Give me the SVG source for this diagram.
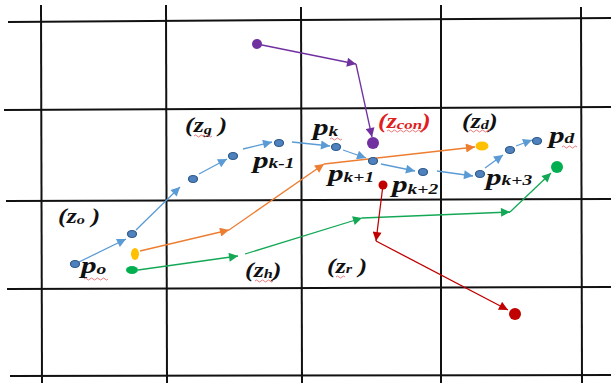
<svg xmlns="http://www.w3.org/2000/svg" width="611" height="383" viewBox="0 0 611 383">
<style>
.grid line{stroke:#111;stroke-width:2}
.bl{stroke:#5b9bd5;stroke-width:1.3;fill:none}
.or{stroke:#ed7d31;stroke-width:1.3;fill:none}
.gr{stroke:#13a856;stroke-width:1.3;fill:none}
.pu{stroke:#7030a0;stroke-width:1.3;fill:none}
.rd{stroke:#c00000;stroke-width:1.3;fill:none}
.bn{fill:#4f81bd;stroke:#2e5a8c;stroke-width:1.2}
.sq{stroke:#e04040;stroke-width:0.7;fill:none}
</style>
<defs>
<marker id="ab" viewBox="0 0 10 10" refX="10" refY="5" markerWidth="12" markerHeight="9" markerUnits="userSpaceOnUse" orient="auto"><path d="M0,0L10,5L0,10z" fill="#5b9bd5"/></marker>
<marker id="ao" viewBox="0 0 10 10" refX="10" refY="5" markerWidth="12" markerHeight="9" markerUnits="userSpaceOnUse" orient="auto"><path d="M0,0L10,5L0,10z" fill="#ed7d31"/></marker>
<marker id="ag" viewBox="0 0 10 10" refX="10" refY="5" markerWidth="12" markerHeight="9" markerUnits="userSpaceOnUse" orient="auto"><path d="M0,0L10,5L0,10z" fill="#13a856"/></marker>
<marker id="ap" viewBox="0 0 10 10" refX="10" refY="5" markerWidth="12" markerHeight="9" markerUnits="userSpaceOnUse" orient="auto"><path d="M0,0L10,5L0,10z" fill="#7030a0"/></marker>
<marker id="ar" viewBox="0 0 10 10" refX="10" refY="5" markerWidth="12" markerHeight="9" markerUnits="userSpaceOnUse" orient="auto"><path d="M0,0L10,5L0,10z" fill="#c00000"/></marker>
</defs>
<rect width="611" height="383" fill="#fff"/>
<g class="grid" id="grid">
<line x1="8" y1="22" x2="611" y2="18"/>
<line x1="4" y1="110" x2="611" y2="107"/>
<line x1="6" y1="201" x2="611" y2="199"/>
<line x1="7" y1="289" x2="611" y2="287"/>
<line x1="10" y1="376" x2="611" y2="375"/>
<line x1="41" y1="5" x2="42" y2="383"/>
<line x1="166" y1="5" x2="167" y2="383"/>
<line x1="301" y1="7" x2="302" y2="383"/>
<line x1="441" y1="5" x2="441" y2="383"/>
<line x1="581" y1="7" x2="582" y2="383"/>
</g>
<g id="connectors">
<line class="bl" x1="79" y1="262" x2="126" y2="239" marker-end="url(#ab)"/>
<line class="bl" x1="136" y1="230" x2="180" y2="187" marker-end="url(#ab)"/>
<line class="bl" x1="199" y1="174" x2="227" y2="159" marker-end="url(#ab)"/>
<line class="bl" x1="243" y1="149" x2="272" y2="142" marker-end="url(#ab)"/>
<line class="bl" x1="292" y1="142" x2="330" y2="146" marker-end="url(#ab)"/>
<line class="bl" x1="343" y1="150" x2="366" y2="158" marker-end="url(#ab)"/>
<line class="bl" x1="381" y1="164" x2="415" y2="171" marker-end="url(#ab)"/>
<line class="bl" x1="437" y1="171" x2="473" y2="176" marker-end="url(#ab)"/>
<line class="bl" x1="485" y1="168" x2="503" y2="155" marker-end="url(#ab)"/>
<line class="bl" x1="516" y1="146" x2="532" y2="140" marker-end="url(#ab)"/>
<line class="or" x1="140" y1="251" x2="229" y2="230" marker-end="url(#ao)"/>
<line class="or" x1="229" y1="230" x2="324" y2="164" marker-end="url(#ao)"/>
<line class="or" x1="324" y1="164" x2="475" y2="147" marker-end="url(#ao)"/>
<line class="gr" x1="138" y1="270" x2="238" y2="256" marker-end="url(#ag)"/>
<line class="gr" x1="245" y1="254" x2="362" y2="218" marker-end="url(#ag)"/>
<line class="gr" x1="362" y1="218" x2="510" y2="212" marker-end="url(#ag)"/>
<line class="gr" x1="510" y1="212" x2="551" y2="173" marker-end="url(#ag)"/>
<line class="pu" x1="257" y1="44" x2="356" y2="64" marker-end="url(#ap)"/>
<line class="pu" x1="356" y1="64" x2="372" y2="137" marker-end="url(#ap)"/>
<line class="rd" x1="383" y1="185" x2="376" y2="241" marker-end="url(#ar)"/>
<line class="rd" x1="376" y1="241" x2="508" y2="310" marker-end="url(#ar)"/>
</g>
<g id="p0"><ellipse class="bn" cx="75" cy="264" rx="4.5" ry="3.5"/></g>
<g id="p1"><ellipse class="bn" cx="132" cy="234" rx="4.5" ry="3.5"/></g>
<g id="p2"><ellipse class="bn" cx="193" cy="179" rx="4.5" ry="3.5"/></g>
<g id="p3"><ellipse class="bn" cx="233" cy="156" rx="4.5" ry="3.5"/></g>
<g id="pk-1"><ellipse class="bn" cx="279" cy="143" rx="4.5" ry="3.5"/></g>
<g id="pk"><ellipse class="bn" cx="336" cy="147" rx="4.5" ry="3.5"/></g>
<g id="pk+1"><ellipse class="bn" cx="373" cy="161" rx="4.5" ry="3.5"/></g>
<g id="pk+2"><ellipse class="bn" cx="423" cy="172" rx="4.5" ry="3.5"/></g>
<g id="pk+3"><ellipse class="bn" cx="480" cy="174" rx="4.5" ry="3.5"/></g>
<g id="p9"><ellipse class="bn" cx="510" cy="150" rx="4.5" ry="3.5"/></g>
<g id="pd"><ellipse class="bn" cx="537" cy="141" rx="4.5" ry="3.5"/></g>
<g id="orange-start"><ellipse cx="135" cy="254" rx="4" ry="6" fill="#ffc000"/></g>
<g id="orange-end"><ellipse cx="482" cy="146" rx="6.5" ry="4.5" fill="#ffc000"/></g>
<g id="green-start"><ellipse cx="132" cy="270" rx="6" ry="4" fill="#00b050"/></g>
<g id="green-end"><circle cx="557" cy="167" r="6" fill="#00b050"/></g>
<g id="purple-start"><circle cx="257" cy="44" r="5" fill="#7030a0"/></g>
<g id="purple-end"><circle cx="373" cy="143" r="6" fill="#7030a0"/></g>
<g id="red-start"><circle cx="383" cy="185" r="4.5" fill="#c00000"/></g>
<g id="red-end"><circle cx="515" cy="314" r="6" fill="#c00000"/></g>
<g id="labels" font-family="Liberation Serif, Times New Roman, serif" font-weight="bold" font-style="italic" fill="#111">
<g font-size="24">
<text transform="translate(81,273) scale(1.3,1)">p<tspan font-size="15" dy="1">o</tspan></text>
<text transform="translate(253,168) scale(1.3,1)">p<tspan font-size="15">k-1</tspan></text>
<text transform="translate(313,135) scale(1.3,1)">p<tspan font-size="15" dy="1">k</tspan></text>
<text transform="translate(328,181) scale(1.3,1)">p<tspan font-size="15" dy="1">k+1</tspan></text>
<text transform="translate(392,192) scale(1.3,1)">p<tspan font-size="15" dy="2">k+2</tspan></text>
<text transform="translate(486,185) scale(1.3,1)">p<tspan font-size="15">k+3</tspan></text>
<text transform="translate(549,143) scale(1.3,1)">p<tspan font-size="15">d</tspan></text>
</g>
<g font-size="20">
<text transform="translate(58,223) scale(1.3,1)">(z<tspan font-size="12.5" dy="1">o</tspan><tspan dy="-1"> )</tspan></text>
<text transform="translate(185,132) scale(1.3,1)">(z<tspan font-size="12.5" dy="2">g</tspan><tspan dy="-2"> )</tspan></text>
<text transform="translate(245,277) scale(1.3,1)">(z<tspan font-size="12.5" dy="1">h</tspan><tspan dy="-1">)</tspan></text>
<text transform="translate(327,273) scale(1.3,1)">(z<tspan font-size="12.5">r</tspan> )</text>
<text transform="translate(378,128) scale(1.3,1)" fill="#e02020">(z<tspan font-size="13" dy="1">con</tspan><tspan dy="-1">)</tspan></text>
<text transform="translate(462,128) scale(1.3,1)">(z<tspan font-size="12.5" dy="1">d</tspan><tspan dy="-1">)</tspan></text>
</g>
</g>
<g id="spellcheck-marks">
<path class="sq" d="M84,279 q1.5,-2 3,0 t3,0 t3,0 t3,0 t3,0 t3,0 t3,0 t3,0"/>
<path class="sq" d="M330,139 q1.5,-2 3,0 t3,0 t3,0 t3,0"/>
<path class="sq" d="M562,147 q1.5,-2 3,0 t3,0 t3,0 t3,0 t3,0"/>
<path class="sq" d="M194,136 q1.5,-2 3,0 t3,0 t3,0 t3,0 t3,0 t3,0"/>
<path class="sq" d="M255,281 q1.5,-2 3,0 t3,0 t3,0 t3,0 t3,0 t3,0"/>
<path class="sq" d="M336,277 q1.5,-2 3,0 t3,0 t3,0"/>
<path class="sq" d="M387,131 q1.5,-2 3,0 t3,0 t3,0 t3,0 t3,0 t3,0 t3,0 t3,0 t3,0 t3,0 t3,0 t3,0"/>
<path class="sq" d="M469,131 q1.5,-2 3,0 t3,0 t3,0 t3,0 t3,0 t3,0 t3,0"/>
</g>
</svg>
